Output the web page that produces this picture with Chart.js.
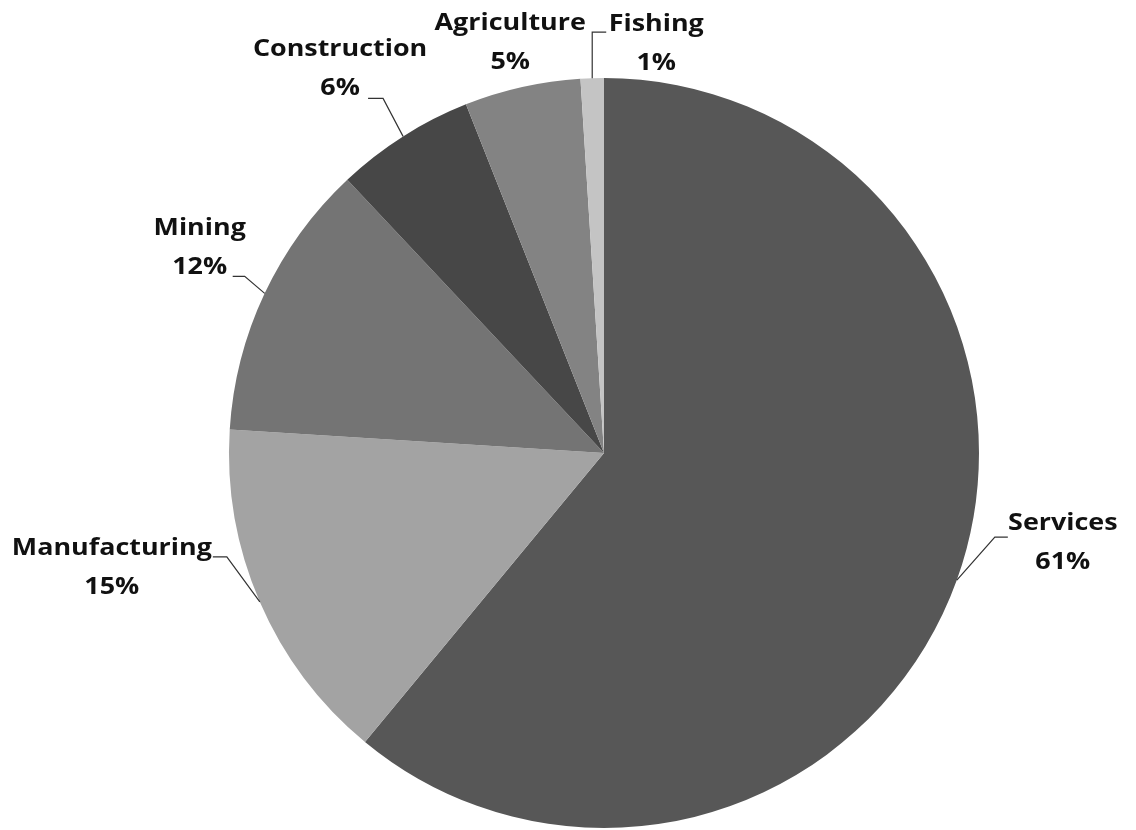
<!DOCTYPE html>
<html lang="en">
<head>
  <meta charset="UTF-8">
  <title>Employment by sector</title>
  <style>
    body {
      margin: 0;
      background: #fff;
    }
    #chart-container {
      width: 1136px;
      height: 830px;
    }
  </style>
</head>
<body>
  <div id="chart-container">
    <canvas id="pieChart" width="1136" height="830"></canvas>
  </div>

  <script src="https://cdn.jsdelivr.net/npm/chart.js"></script>
  <script>
    // sectors, clockwise from 12 o'clock
    const sectors = ['Services', 'Manufacturing', 'Mining', 'Construction', 'Agriculture', 'Fishing'];
    const shares = [61, 15, 12, 6, 5, 1];
    const sliceColors = ['#575757', '#a3a3a3', '#747474', '#474747', '#838383', '#c4c4c4'];

    // where each label sits relative to the outer edge of its slice,
    // and the bend of its leader line (null = no leader)
    const labelLayout = [
      { dx: 106, dy: -37, elbow: [38, -43], end: 51 },
      { dx: -148, dy: -34, elbow: [-33, -45], end: -47 },
      { dx: -65, dy: -46, elbow: [-20, -17], end: -32 },
      { dx: -63, dy: -68, elbow: [-20, -38], end: -35 },
      { dx: -12, dy: -44, elbow: null },
      { dx: 64, dy: -35, elbow: [0, -46], end: 14 }
    ];

    const labelFont = 'bold 24px "Open Sans", Arial, sans-serif';
    const lineGap = 39;
    const textStretch = 1.12; // labels are set a little wide

    function wideText(ctx, text, x, y) {
      ctx.save();
      ctx.translate(x, y);
      ctx.scale(textStretch, 1);
      ctx.fillText(text, 0, 0);
      ctx.restore();
    }

    const pieLabels = {
      id: 'pieLabels',
      afterDatasetsDraw(chart) {
        const ctx = chart.ctx;
        const arcs = chart.getDatasetMeta(0).data;
        ctx.save();
        arcs.forEach((arc, i) => {
          const mid = (arc.startAngle + arc.endAngle) / 2;
          const ax = arc.x + Math.cos(mid) * arc.outerRadius;
          const ay = arc.y + Math.sin(mid) * arc.outerRadius;
          const lay = labelLayout[i];

          if (lay.elbow) {
            const ex = ax + lay.elbow[0];
            const ey = ay + lay.elbow[1];
            ctx.strokeStyle = '#333';
            ctx.lineWidth = 1.2;
            ctx.beginPath();
            ctx.moveTo(ax, ay);
            ctx.lineTo(ex, ey);
            ctx.lineTo(ax + lay.end, ey);
            ctx.stroke();
          }

          const lx = ax + lay.dx;
          const ly = ay + lay.dy;
          ctx.fillStyle = '#111';
          ctx.font = labelFont;
          ctx.textAlign = 'center';
          ctx.textBaseline = 'middle';
          wideText(ctx, sectors[i], lx, ly - lineGap / 2);
          wideText(ctx, shares[i] + '%', lx, ly + lineGap / 2);
        });
        ctx.restore();
      }
    };

    new Chart(document.getElementById('pieChart'), {
      type: 'pie',
      data: {
        labels: sectors,
        datasets: [{
          data: shares,
          backgroundColor: sliceColors,
          borderWidth: 0
        }]
      },
      options: {
        responsive: false,
        animation: false,
        layout: {
          padding: { left: 229, right: 157, top: 78, bottom: 2 }
        },
        plugins: {
          legend: { display: false },
          tooltip: { enabled: false }
        }
      },
      plugins: [pieLabels]
    });
  </script>
</body>
</html>
